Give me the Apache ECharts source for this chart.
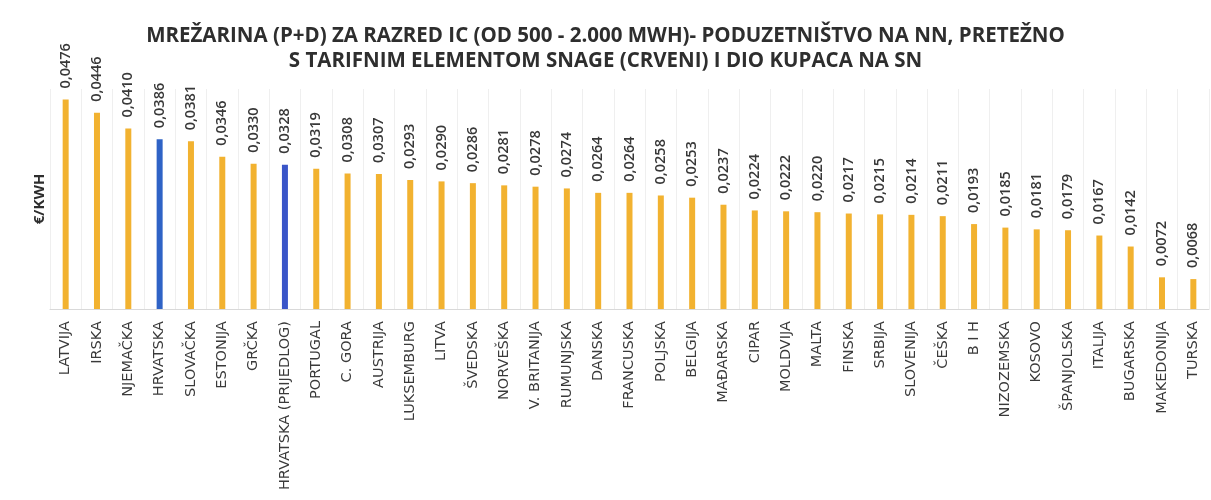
<!DOCTYPE html>
<html>
<head>
<meta charset="utf-8">
<script src="https://cdn.jsdelivr.net/npm/echarts@6/dist/echarts.min.js"></script>
<style>html,body{margin:0;padding:0;background:#fff;}#c{width:1211px;height:500px;}</style>
</head>
<body>
<div id="c"></div>
<script>
var titleLines = ["MREŽARINA (P+D) ZA RAZRED IC (OD 500 - 2.000 MWH)- PODUZETNIŠTVO NA NN, PRETEŽNO", "S TARIFNIM ELEMENTOM SNAGE (CRVENI) I DIO KUPACA NA SN"];
var yAxisName = "€/KWH";
var categories = ["LATVIJA","IRSKA","NJEMAČKA","HRVATSKA","SLOVAČKA","ESTONIJA","GRČKA","HRVATSKA (PRIJEDLOG)","PORTUGAL","C. GORA","AUSTRIJA","LUKSEMBURG","LITVA","ŠVEDSKA","NORVEŠKA","V. BRITANIJA","RUMUNJSKA","DANSKA","FRANCUSKA","POLJSKA","BELGIJA","MAĐARSKA","CIPAR","MOLDVIJA","MALTA","FINSKA","SRBIJA","SLOVENIJA","ČEŠKA","B I H","NIZOZEMSKA","KOSOVO","ŠPANJOLSKA","ITALIJA","BUGARSKA","MAKEDONIJA","TURSKA"];
var values = [0.0476,0.0446,0.0410,0.0386,0.0381,0.0346,0.0330,0.0328,0.0319,0.0308,0.0307,0.0293,0.0290,0.0286,0.0281,0.0278,0.0274,0.0264,0.0264,0.0258,0.0253,0.0237,0.0224,0.0222,0.0220,0.0217,0.0215,0.0214,0.0211,0.0193,0.0185,0.0181,0.0179,0.0167,0.0142,0.0072,0.0068];
var highlight = {"HRVATSKA": "#2F63C6", "HRVATSKA (PRIJEDLOG)": "#3A55C8"};
var baseColor = "#F2B230";

var chart = echarts.init(document.getElementById('c'));
chart.setOption({
  animation: false,
  backgroundColor: '#fff',
  title: {
    text: titleLines.join('\n'),
    left: 'center',
    top: 19,
    textStyle: {fontFamily: 'Open Sans', fontWeight: 'bold', fontSize: 20.5, color: '#2e2e2e', lineHeight: 25}
  },
  grid: {left: 50, right: 2, top: 89, bottom: 191},
  xAxis: {
    type: 'category',
    data: categories,
    axisLine: {lineStyle: {color: '#d9d9d9'}},
    axisTick: {show: false},
    splitLine: {show: true, lineStyle: {color: '#efefef'}},
    axisLabel: {rotate: 90, interval: 0, margin: 12, fontFamily: 'DejaVu Sans', fontSize: 14.5, color: '#3a3a3a'}
  },
  yAxis: {
    type: 'value',
    min: 0, max: 0.05,
    name: yAxisName,
    nameLocation: 'middle',
    nameRotate: 90,
    nameGap: 3,
    nameTextStyle: {fontFamily: 'Open Sans', fontWeight: 'bold', fontSize: 15, color: '#2e2e2e'},
    axisLabel: {show: false},
    axisLine: {show: false},
    axisTick: {show: false},
    splitLine: {show: false}
  },
  series: [{
    type: 'bar',
    barWidth: 6,
    data: values.map(function (v, i) {
      return {value: v, itemStyle: {color: highlight[categories[i]] || baseColor}};
    }),
    label: {
      show: true,
      position: 'top',
      rotate: 90,
      align: 'left',
      verticalAlign: 'middle',
      distance: 11,
      fontFamily: 'Open Sans',
      fontWeight: 600,
      fontSize: 14.5,
      color: '#383838',
      formatter: function (p) { return p.value.toFixed(4).replace('.', ','); }
    }
  }]
});
</script>
</body>
</html>
